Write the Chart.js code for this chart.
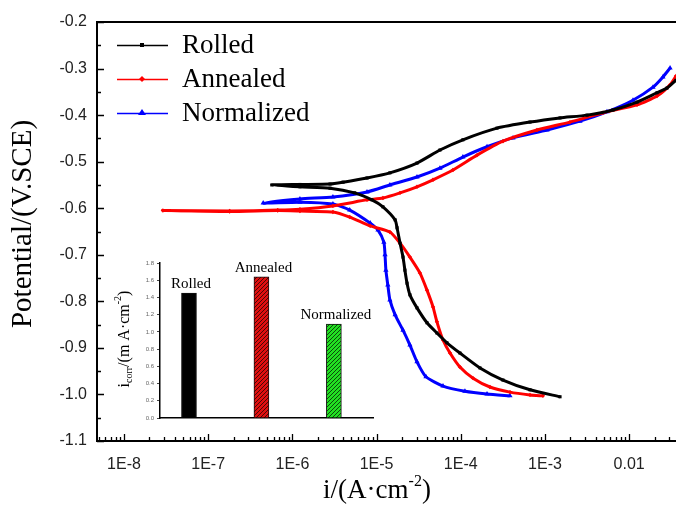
<!DOCTYPE html>
<html>
<head>
<meta charset="utf-8">
<script src="https://cdn.jsdelivr.net/npm/chart.js@4.4.0/dist/chart.umd.min.js"></script>
<style>
  body { margin: 0; background: #fff; }
  #wrap { position: relative; width: 676px; height: 505px; overflow: hidden; }
  #mainChart { position: absolute; left: 0; top: 0; }
  #insetChart { position: absolute; left: 100px; top: 250px; }
</style>
</head>
<body>
<div id="wrap">
  <canvas id="mainChart" width="680" height="505"></canvas>
  <canvas id="insetChart" width="285" height="180"></canvas>
</div>
<script>
// Polarization curves: cathodic end -> Ecorr -> anodic end
const rolledI = [1.51e-3, 6.64e-4, 3.17e-4, 1.69e-4, 9.77e-5, 6.85e-5, 5.21e-5, 3.97e-5, 3.02e-5, 2.49e-5,
  2.30e-5, 2.17e-5, 2.06e-5, 1.90e-5, 1.75e-5, 1.66e-5, 1.19e-5, 8.8e-6, 5.5e-6, 2.8e-6,
  1.23e-6, 5.7e-7, 1.23e-6, 2.8e-6, 4.0e-6, 7.7e-6, 1.44e-5, 3.02e-5, 5.66e-5, 1.06e-4,
  2.69e-4, 6.64e-4, 1.51e-3, 3.16e-3, 6.43e-3, 1.24e-2, 2.14e-2, 2.81e-2, 3.6e-2];
const rolledE = [-1.005, -0.990, -0.969, -0.943, -0.911, -0.889, -0.868, -0.846, -0.814, -0.786,
  -0.761, -0.733, -0.705, -0.675, -0.642, -0.625, -0.597, -0.582, -0.567, -0.557,
  -0.554, -0.550, -0.549, -0.548, -0.544, -0.535, -0.524, -0.503, -0.475, -0.453,
  -0.428, -0.415, -0.406, -0.400, -0.389, -0.372, -0.352, -0.342, -0.325];

const annealedI = [9.46e-4, 6.64e-4, 3.84e-4, 2.22e-4, 1.40e-4, 9.77e-5, 7.45e-5, 6.15e-5, 5.21e-5, 4.68e-5,
  3.97e-5, 3.27e-5, 2.49e-5, 1.90e-5, 1.44e-5, 8.4e-6, 4.8e-6, 3.03e-6, 1.23e-6, 6.7e-7,
  1.8e-7, 2.9e-8, 1.8e-7, 6.7e-7, 1.23e-6, 3.03e-6, 7.7e-6, 1.19e-5, 1.90e-5, 3.02e-5,
  4.68e-5, 8.07e-5, 1.56e-4, 3.17e-4, 8.04e-4, 1.98e-3, 4.89e-3, 1.24e-2, 2.14e-2, 3.06e-2, 3.6e-2];
const annealedE = [-1.003, -1.001, -0.995, -0.984, -0.965, -0.941, -0.911, -0.883, -0.844, -0.812,
  -0.776, -0.739, -0.705, -0.675, -0.651, -0.638, -0.619, -0.608, -0.606, -0.605,
  -0.607, -0.605, -0.606, -0.604, -0.602, -0.595, -0.582, -0.578, -0.567, -0.554,
  -0.539, -0.518, -0.486, -0.456, -0.432, -0.415, -0.395, -0.378, -0.359, -0.335, -0.316];

const normI = [3.84e-4, 2.05e-4, 1.12e-4, 6.15e-5, 3.86e-5, 3.02e-5, 2.49e-5, 2.06e-5, 1.66e-5, 1.44e-5,
  1.36e-5, 1.29e-5, 1.26e-5, 1.22e-5, 1.04e-5, 8.4e-6, 4.8e-6, 3.03e-6, 1.23e-6, 4.5e-7,
  1.23e-6, 3.03e-6, 7.7e-6, 1.44e-5, 3.02e-5, 5.66e-5, 1.06e-4, 2.05e-4, 4.17e-4, 1.06e-3,
  2.61e-3, 5.45e-3, 1.11e-2, 1.92e-2, 2.52e-2, 3.06e-2];
const normE = [-1.003, -0.999, -0.993, -0.982, -0.962, -0.930, -0.894, -0.862, -0.829, -0.797,
  -0.765, -0.733, -0.700, -0.673, -0.647, -0.632, -0.604, -0.591, -0.587, -0.589,
  -0.580, -0.576, -0.565, -0.550, -0.533, -0.514, -0.490, -0.468, -0.449, -0.432,
  -0.413, -0.393, -0.368, -0.340, -0.318, -0.299];

const seriesNames = ['Rolled', 'Annealed', 'Normalized'];
const seriesColors = ['#000000', '#ff0000', '#0000ff'];
const xTickLabels = ['1E-8', '1E-7', '1E-6', '1E-5', '1E-4', '1E-3', '0.01']; // decades -8 .. -2
const yMin = -1.1, yMax = -0.2;

// inset: corrosion current density
const icorr = [1.45, 1.64, 1.09];

function pts(xs, ys) {
  return xs.map((v, k) => ({ x: v, y: ys[k] }));
}

// Tick marks pointing inward, top frame line, titles and legend
const mainDecor = {
  id: 'mainDecor',
  afterDraw(chart) {
    const ctx = chart.ctx;
    const a = chart.chartArea;
    const xs = chart.scales.x, ys = chart.scales.y;
    ctx.save();
    ctx.strokeStyle = '#000';
    ctx.lineWidth = 2;
    ctx.beginPath();
    ctx.moveTo(a.left, a.top);
    ctx.lineTo(680, a.top);
    ctx.stroke();

    ctx.lineWidth = 1.3;
    ctx.beginPath();
    xs.ticks.forEach(t => {
      const p = Math.round(xs.getPixelForValue(t.value)) + 0.5;
      const len = t.label ? 7 : 4;
      ctx.moveTo(p, a.bottom);
      ctx.lineTo(p, a.bottom - len);
    });
    ys.ticks.forEach(t => {
      const p = Math.round(ys.getPixelForValue(t.value)) + 0.5;
      const len = t.label ? 7 : 4;
      ctx.moveTo(a.left, p);
      ctx.lineTo(a.left + len, p);
    });
    ctx.stroke();

    // axis titles
    ctx.fillStyle = '#000';
    ctx.font = '29px "Liberation Serif"';
    ctx.textBaseline = 'middle';
    ctx.textAlign = 'center';
    ctx.save();
    ctx.translate(23, 224);
    ctx.rotate(-Math.PI / 2);
    ctx.fillText('Potential/(V.SCE)', 0, 0);
    ctx.restore();

    ctx.textBaseline = 'alphabetic';
    ctx.textAlign = 'left';
    const base = 'i/(A\u00b7cm', sup = '-2', close = ')';
    ctx.font = '27px "Liberation Serif"';
    const w1 = ctx.measureText(base).width, w3 = ctx.measureText(close).width;
    ctx.font = '16px "Liberation Serif"';
    const w2 = ctx.measureText(sup).width;
    let x0 = 377 - (w1 + w2 + w3) / 2;
    ctx.font = '27px "Liberation Serif"';
    ctx.fillText(base, x0, 498);
    ctx.font = '16px "Liberation Serif"';
    ctx.fillText(sup, x0 + w1, 486);
    ctx.font = '27px "Liberation Serif"';
    ctx.fillText(close, x0 + w1 + w2, 498);

    // legend
    const rows = [45, 79, 113];
    rows.forEach((ry, k) => {
      const c = seriesColors[k];
      ctx.strokeStyle = c;
      ctx.fillStyle = c;
      ctx.lineWidth = 1.3;
      ctx.beginPath();
      ctx.moveTo(117, ry + 0.5);
      ctx.lineTo(168, ry + 0.5);
      ctx.stroke();
      ctx.beginPath();
      if (k === 0) {
        ctx.rect(140, ry - 2, 4, 4);
      } else if (k === 1) {
        ctx.moveTo(142, ry - 3); ctx.lineTo(145, ry); ctx.lineTo(142, ry + 3); ctx.lineTo(139, ry);
      } else {
        ctx.moveTo(142, ry - 4); ctx.lineTo(146, ry + 2); ctx.lineTo(138, ry + 2);
      }
      ctx.closePath();
      ctx.fill();
      ctx.fillStyle = '#000';
      ctx.font = '27px "Liberation Serif"';
      ctx.textBaseline = 'middle';
      ctx.fillText(seriesNames[k], 182, ry + 1);
    });
    ctx.restore();
  }
};

const mainChart = new Chart(document.getElementById('mainChart'), {
  type: 'scatter',
  data: {
    datasets: [
      { label: seriesNames[0], data: pts(rolledI, rolledE), borderColor: seriesColors[0], backgroundColor: seriesColors[0],
        pointStyle: 'rect', pointRadius: 2.2 },
      { label: seriesNames[1], data: pts(annealedI, annealedE), borderColor: seriesColors[1], backgroundColor: seriesColors[1],
        pointStyle: 'rectRot', pointRadius: 2.2 },
      { label: seriesNames[2], data: pts(normI, normE), borderColor: seriesColors[2], backgroundColor: seriesColors[2],
        pointStyle: 'triangle', pointRadius: 3 }
    ].map(d => Object.assign(d, { showLine: true, borderWidth: 3, tension: 0.2, pointBorderWidth: 0 }))
  },
  options: {
    responsive: false,
    animation: false,
    devicePixelRatio: 1,
    layout: { padding: { top: 22, right: 0, left: 0, bottom: 0 } },
    plugins: { legend: { display: false }, tooltip: { enabled: false } },
    scales: {
      x: {
        type: 'logarithmic',
        min: 4.78e-9,
        max: 3.6e-2,
        afterFit: s => { s.height = 64; s.paddingLeft = 0; s.paddingRight = 0; },
        afterBuildTicks: s => {
          const t = [];
          for (let e = -9; e <= -2; e++) {
            for (let m = 1; m <= 9; m++) {
              const v = m * Math.pow(10, e);
              if (v >= s.min && v <= s.max) t.push({ value: v });
            }
          }
          s.ticks = t;
        },
        ticks: {
          autoSkip: false,
          maxRotation: 0,
          padding: 14,
          color: '#222',
          font: { family: 'Liberation Sans', size: 16 },
          callback: function (value) {
            const e = Math.log10(value);
            const r = Math.round(e);
            if (Math.abs(e - r) > 1e-6) return '';
            return xTickLabels[r + 8] || '';
          }
        },
        grid: { display: false, drawTicks: false },
        border: { display: true, color: '#000', width: 2 }
      },
      y: {
        type: 'linear',
        min: yMin,
        max: yMax,
        afterFit: s => { s.width = 97; },
        afterBuildTicks: s => {
          const t = [];
          for (let k = 0; k <= 18; k++) t.push({ value: yMin + k * 0.05 });
          s.ticks = t;
        },
        ticks: {
          autoSkip: false,
          padding: 10,
          color: '#222',
          font: { family: 'Liberation Sans', size: 16 },
          callback: function (value, index) {
            return index % 2 === 0 ? (yMin + index * 0.05).toFixed(1) : '';
          }
        },
        grid: { display: false, drawTicks: false },
        border: { display: true, color: '#000', width: 2 }
      }
    }
  },
  plugins: [mainDecor]
});

// Inset bar chart
function hatch(bg, fg) {
  const c = document.createElement('canvas');
  c.width = 4; c.height = 4;
  const g = c.getContext('2d');
  g.fillStyle = bg;
  g.fillRect(0, 0, 4, 4);
  g.strokeStyle = fg;
  g.lineWidth = 1;
  g.beginPath();
  g.moveTo(0, 4); g.lineTo(4, 0);
  g.moveTo(-1, 1); g.lineTo(1, -1);
  g.moveTo(3, 5); g.lineTo(5, 3);
  g.stroke();
  return g.createPattern(c, 'repeat');
}

const insetDecor = {
  id: 'insetDecor',
  afterDraw(chart) {
    const ctx = chart.ctx;
    const meta = chart.getDatasetMeta(0);
    ctx.save();
    ctx.fillStyle = '#000';
    ctx.font = '15px "Liberation Serif"';
    ctx.textAlign = 'center';
    ctx.textBaseline = 'alphabetic';
    meta.data.forEach((bar, k) => {
      ctx.fillText(seriesNames[k], bar.x + 2, bar.y - 5);
    });
    // y title with subscript and superscript
    ctx.translate(24, 89);
    ctx.rotate(-Math.PI / 2);
    const parts = [['i', 16, 0], ['corr', 10, 4], ['/(m A\u00b7cm', 16, 0], ['-2', 10, -7], [')', 16, 0]];
    let total = 0;
    parts.forEach(p => { ctx.font = p[1] + 'px "Liberation Serif"'; total += ctx.measureText(p[0]).width; });
    let x = -total / 2;
    ctx.textAlign = 'left';
    ctx.textBaseline = 'middle';
    parts.forEach(p => {
      ctx.font = p[1] + 'px "Liberation Serif"';
      ctx.fillText(p[0], x, p[2] + 1);
      x += ctx.measureText(p[0]).width;
    });
    ctx.restore();
  }
};

const insetCtx = document.getElementById('insetChart').getContext('2d');
const insetChart = new Chart(insetCtx, {
  type: 'bar',
  data: {
    datasets: [{
      data: icorr.map((v, k) => ({ x: k + 1, y: v })),
      backgroundColor: ['#000000', hatch('#e01010', '#4a0606'), hatch('#22e022', '#0a4a0a')],
      borderColor: '#111',
      borderWidth: 1,
      barThickness: 15
    }]
  },
  options: {
    responsive: false,
    animation: false,
    devicePixelRatio: 1,
    layout: { padding: { top: 13, right: 12, left: 0, bottom: 0 } },
    plugins: { legend: { display: false }, tooltip: { enabled: false } },
    scales: {
      x: {
        type: 'linear',
        offset: false,
        min: 0.6,
        max: 3.54,
        afterFit: s => { s.height = 12; },
        ticks: { display: false },
        grid: { display: false },
        border: { display: true, color: '#000', width: 1.5 }
      },
      y: {
        min: 0,
        max: 1.8,
        afterFit: s => { s.width = 60; },
        ticks: {
          stepSize: 0.2,
          padding: 3,
          color: '#666',
          font: { family: 'Liberation Sans', size: 6 },
          callback: v => v.toFixed(1)
        },
        grid: { display: true, drawOnChartArea: false, tickLength: 3, color: '#444' },
        border: { display: true, color: '#000', width: 1.5 }
      }
    }
  },
  plugins: [insetDecor]
});
</script>
</body>
</html>
